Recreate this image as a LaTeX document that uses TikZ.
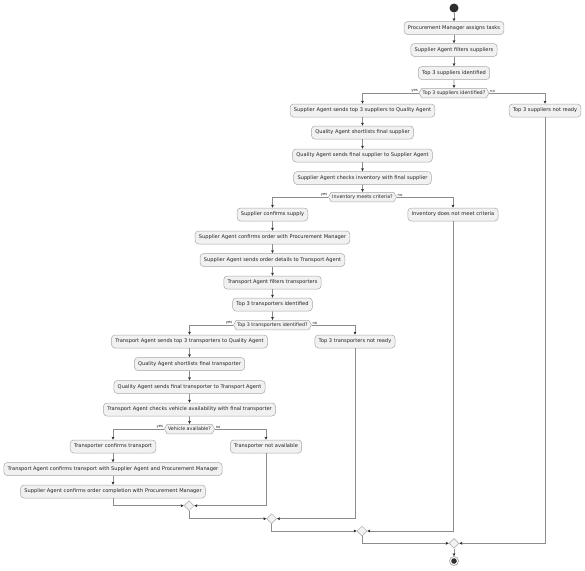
\documentclass[tikz,border=0pt]{standalone}
\usepackage{fontspec}
\setmainfont{DejaVu Sans}
\usetikzlibrary{arrows.meta,shapes.geometric,shapes.symbols}
\definecolor{boxfill}{HTML}{F1F1F1}
\definecolor{boxline}{HTML}{A8A8A8}
\definecolor{flow}{HTML}{8C8C8C}
\definecolor{tip}{HTML}{2E2E2E}
\definecolor{txt}{HTML}{222222}
\tikzset{
  act/.style={draw=boxline, fill=boxfill, rounded corners=3.5pt, line width=0.5pt,
    font=\fontsize{5.1}{6}\selectfont, text=txt, inner xsep=3.8pt, inner ysep=0pt,
    minimum height=13pt},
  dec/.style={signal, signal to=east and west, signal pointer angle=120,
    draw=boxline, fill=boxfill, line width=0.5pt,
    font=\fontsize{4.8}{5}\selectfont, text=txt, inner xsep=1pt, inner ysep=0pt,
    minimum height=9.5pt},
  merge/.style={diamond, draw=boxline, fill=boxfill, line width=0.5pt,
    inner sep=0pt, minimum size=10pt},
  flowarrow/.style={draw=flow, line width=0.6pt,
    -{Stealth[length=3pt,width=2.8pt,inset=0.6pt,color=tip]}},
  flowline/.style={draw=flow, line width=0.6pt},
  lbl/.style={font=\fontsize{3.8}{4}\selectfont, text=txt, inner sep=0.6pt},
}
\begin{document}
\begin{tikzpicture}[x=1pt,y=-1pt]
\useasboundingbox (0,0) rectangle (585,570);
% start
\node[circle, fill=tip, minimum size=9pt, inner sep=0pt] (start) at (454,8) {};
% main column 1
\node[act] (b1) at (454,28) {Procurement Manager assigns tasks};
\node[act] (b2) at (454,50) {Supplier Agent filters suppliers};
\node[act] (b3) at (454,73) {Top 3 suppliers identified};
\node[dec] (d1) at (454,93) {Top 3 suppliers identified?};
\node[act] (b4) at (362.5,110.5) {Supplier Agent sends top 3 suppliers to Quality Agent};
\node[act] (b5) at (545,110.5) {Top 3 suppliers not ready};
\node[act] (b6) at (362.5,132.5) {Quality Agent shortlists final supplier};
\node[act] (b7) at (362.5,155.5) {Quality Agent sends final supplier to Supplier Agent};
\node[act] (b8) at (362.5,178) {Supplier Agent checks inventory with final supplier};
\node[dec] (d2) at (362.5,197) {Inventory meets criteria?};
\node[act] (b9) at (272.5,214.5) {Supplier confirms supply};
\node[act] (b10) at (453,214.5) {Inventory does not meet criteria};
\node[act] (b11) at (272.5,237.5) {Supplier Agent confirms order with Procurement Manager};
\node[act] (b12) at (272.5,260) {Supplier Agent sends order details to Transport Agent};
\node[act] (b13) at (272.5,282.5) {Transport Agent filters transporters};
\node[act] (b14) at (272.5,304.5) {Top 3 transporters identified};
\node[dec] (d3) at (272.5,325) {Top 3 transporters identified?};
\node[act] (b15) at (189.5,341.5) {Transport Agent sends top 3 transporters to Quality Agent};
\node[act] (b16) at (355,341.5) {Top 3 transporters not ready};
\node[act] (b17) at (189.5,364) {Quality Agent shortlists final transporter};
\node[act] (b18) at (189.5,387) {Quality Agent sends final transporter to Transport Agent};
\node[act] (b19) at (189.5,409.5) {Transport Agent checks vehicle availability with final transporter};
\node[dec] (d4) at (189.5,429) {Vehicle available?};
\node[act] (b20) at (113,446.5) {Transporter confirms transport};
\node[act] (b21) at (266,446.5) {Transporter not available};
\node[act] (b22) at (113,469) {Transport Agent confirms transport with Supplier Agent and Procurement Manager};
\node[act] (b23) at (113,491.5) {Supplier Agent confirms order completion with Procurement Manager};
% merges
\node[merge] (m1) at (189,505.7) {};
\node[merge] (m2) at (271.7,518.7) {};
\node[merge] (m3) at (362,531) {};
\node[merge] (m4) at (454,543.3) {};
% end
\node[circle, draw=flow, fill=white, line width=0.5pt, minimum size=9pt, inner sep=0pt] (end) at (454,561) {};
\node[circle, fill=tip, minimum size=5.6pt, inner sep=0pt] (endin) at (end.center) {};
% straight flows
\draw[flowarrow] (start) -- (b1);
\draw[flowarrow] (b1) -- (b2);
\draw[flowarrow] (b2) -- (b3);
\draw[flowarrow] (b3) -- (d1);
\draw[flowarrow] (b4) -- (b6);
\draw[flowarrow] (b6) -- (b7);
\draw[flowarrow] (b7) -- (b8);
\draw[flowarrow] (b8) -- (d2);
\draw[flowarrow] (b9) -- (b11);
\draw[flowarrow] (b11) -- (b12);
\draw[flowarrow] (b12) -- (b13);
\draw[flowarrow] (b13) -- (b14);
\draw[flowarrow] (b14) -- (d3);
\draw[flowarrow] (b15) -- (b17);
\draw[flowarrow] (b17) -- (b18);
\draw[flowarrow] (b18) -- (b19);
\draw[flowarrow] (b19) -- (d4);
\draw[flowarrow] (b20) -- (b22);
\draw[flowarrow] (b22) -- (b23);
\draw[flowarrow] (m4) -- (end);
% branches
\draw[flowarrow] (d1.west) -| (b4.north);
\draw[flowarrow] (d1.east) -| (b5.north);
\draw[flowarrow] (d2.west) -| (b9.north);
\draw[flowarrow] (d2.east) -| (b10.north);
\draw[flowarrow] (d3.west) -| (b15.north);
\draw[flowarrow] (d3.east) -| (b16.north);
\draw[flowarrow] (d4.west) -| (b20.north);
\draw[flowarrow] (d4.east) -| (b21.north);
% labels
\node[lbl, anchor=south east] (y1) at (d1.west) {yes};
\node[lbl, anchor=south west] (n1) at (d1.east) {no};
\node[lbl, anchor=south east] (y2) at (d2.west) {yes};
\node[lbl, anchor=south west] (n2) at (d2.east) {no};
\node[lbl, anchor=south east] (y3) at (d3.west) {yes};
\node[lbl, anchor=south west] (n3) at (d3.east) {no};
\node[lbl, anchor=south east] (y4) at (d4.west) {yes};
\node[lbl, anchor=south west] (n4) at (d4.east) {no};
% merges flows
\draw[flowarrow] (b23.south) |- (m1.west);
\draw[flowarrow] (b21.south) |- (m1.east);
\draw[flowarrow] (m1.south) |- (m2.west);
\draw[flowarrow] (b16.south) |- (m2.east);
\draw[flowarrow] (m2.south) |- (m3.west);
\draw[flowarrow] (b10.south) |- (m3.east);
\draw[flowarrow] (m3.south) |- (m4.west);
\draw[flowarrow] (b5.south) |- (m4.east);
\end{tikzpicture}
\end{document}
